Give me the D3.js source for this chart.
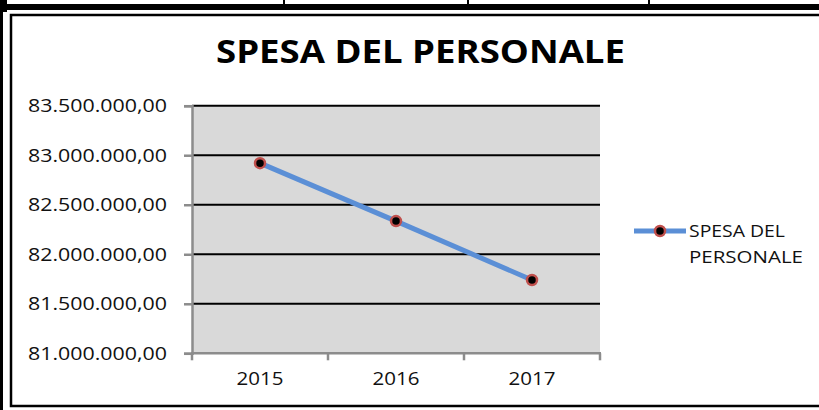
<!DOCTYPE html>
<html>
<head>
<meta charset="utf-8">
<script src="https://cdn.jsdelivr.net/npm/d3@7"></script>
<style>
  html, body { margin: 0; padding: 0; background: #fff; }
  svg { display: block; font-family: "Open Sans", "Noto Sans", sans-serif; }
</style>
</head>
<body>
<svg id="chart" width="819" height="410"></svg>
<script>
// data
const years = ['2015', '2016', '2017'];
const spesa = [82920000, 82335000, 81740000];
const yTicks = [81000000, 81500000, 82000000, 82500000, 83000000, 83500000];
const seriesName = 'SPESA DEL PERSONALE';

const svg = d3.select('#chart');

// spreadsheet fragments around the chart
svg.append('rect').attr('x', 0).attr('y', 4).attr('width', 819).attr('height', 6).attr('fill', '#000');
svg.append('rect').attr('x', 0).attr('y', 0).attr('width', 7).attr('height', 12).attr('fill', '#000');
svg.append('rect').attr('x', 0).attr('y', 0).attr('width', 3).attr('height', 410).attr('fill', '#000');
[283, 467, 648].forEach((x) => {
    svg.append('rect').attr('x', x).attr('y', 0).attr('width', 2).attr('height', 5).attr('fill', '#000');
});

// chart frame (runs off the right edge)
svg.append('path')
    .attr('d', 'M 830 15 H 11 V 406 H 830')
    .attr('fill', 'none')
    .attr('stroke', '#000')
    .attr('stroke-width', 2.5);

// title
svg.append('text')
    .attr('x', 420.5)
    .attr('y', 63)
    .attr('text-anchor', 'middle')
    .attr('textLength', 409)
    .attr('lengthAdjust', 'spacingAndGlyphs')
    .style('font-size', '32px')
    .style('font-weight', 'bold')
    .text(seriesName);

const plot = { left: 192, right: 600, top: 105.7, bottom: 353.3 };

const x = d3.scaleBand()
    .domain(years)
    .range([plot.left, plot.right])
    .padding(0);

const y = d3.scaleLinear()
    .domain([81000000, 83500000])
    .range([plot.bottom, plot.top]);

const it = d3.formatLocale({ decimal: ',', thousands: '.', grouping: [3], currency: ['€', ''] });
const fmt = it.format(',.2f');

// plot background
svg.append('rect')
    .attr('x', plot.left)
    .attr('y', plot.top)
    .attr('width', plot.right - plot.left)
    .attr('height', plot.bottom - plot.top)
    .attr('fill', '#d9d9d9');

// gridlines
svg.append('g')
    .selectAll('line')
    .data(yTicks.slice(1))
    .enter()
    .append('line')
    .attr('x1', plot.left)
    .attr('x2', plot.right)
    .attr('y1', (d) => y(d))
    .attr('y2', (d) => y(d))
    .attr('stroke', '#000')
    .attr('stroke-width', 2);

// Y axis
const yAxis = svg.append('g')
    .attr('transform', `translate(${plot.left},0)`)
    .call(d3.axisLeft(y).tickValues(yTicks).tickSize(8).tickPadding(17).tickFormat(fmt));
yAxis.select('.domain').attr('stroke', '#8c8c8c').attr('stroke-width', 2.5);
yAxis.selectAll('.tick line').attr('stroke', '#8c8c8c').attr('stroke-width', 2.5);
yAxis.selectAll('.tick text')
    .attr('fill', '#111')
    .attr('textLength', 139)
    .attr('lengthAdjust', 'spacingAndGlyphs')
    .style('font-family', '"Open Sans", sans-serif')
    .style('font-size', '19px');

// X axis
const xAxis = svg.append('g')
    .attr('transform', `translate(0,${plot.bottom})`)
    .call(d3.axisBottom(x).tickSize(0).tickPadding(18));
xAxis.select('.domain').remove();
xAxis.selectAll('.tick text')
    .attr('fill', '#111')
    .attr('textLength', 47)
    .attr('lengthAdjust', 'spacingAndGlyphs')
    .style('font-family', '"Open Sans", sans-serif')
    .style('font-size', '19px');
svg.append('line')
    .attr('x1', plot.left - 1)
    .attr('x2', plot.right + 1)
    .attr('y1', plot.bottom)
    .attr('y2', plot.bottom)
    .attr('stroke', '#8c8c8c')
    .attr('stroke-width', 2.5);
svg.append('g')
    .selectAll('line')
    .data(years.concat(['end']))
    .enter()
    .append('line')
    .attr('x1', (d) => (d === 'end' ? plot.right : x(d)))
    .attr('x2', (d) => (d === 'end' ? plot.right : x(d)))
    .attr('y1', plot.bottom)
    .attr('y2', plot.bottom + 7)
    .attr('stroke', '#8c8c8c')
    .attr('stroke-width', 2.5);

// series line
const cx = (d, i) => x(years[i]) + x.bandwidth() / 2;
const line = d3.line()
    .x((d, i) => cx(d, i))
    .y((d) => y(d));

svg.append('path')
    .datum(spesa)
    .attr('d', line)
    .attr('fill', 'none')
    .attr('stroke', '#5b8fd6')
    .attr('stroke-width', 5);

svg.append('g')
    .selectAll('circle')
    .data(spesa)
    .enter()
    .append('circle')
    .attr('cx', (d, i) => cx(d, i))
    .attr('cy', (d) => y(d))
    .attr('r', 5)
    .attr('fill', '#000')
    .attr('stroke', '#c0504d')
    .attr('stroke-width', 2.5);

// legend
const legend = svg.append('g').attr('transform', 'translate(634,231)');
legend.append('line')
    .attr('x1', 0).attr('x2', 52)
    .attr('y1', 0).attr('y2', 0)
    .attr('stroke', '#5b8fd6')
    .attr('stroke-width', 5);
legend.append('circle')
    .attr('cx', 26).attr('cy', 0).attr('r', 5)
    .attr('fill', '#000')
    .attr('stroke', '#c0504d')
    .attr('stroke-width', 2.5);
const lt = legend.append('text')
    .attr('fill', '#111')
    .style('font-size', '17px');
lt.append('tspan').attr('x', 55).attr('y', 6)
    .attr('textLength', 96).attr('lengthAdjust', 'spacingAndGlyphs')
    .text('SPESA DEL');
lt.append('tspan').attr('x', 55).attr('y', 32)
    .attr('textLength', 114).attr('lengthAdjust', 'spacingAndGlyphs')
    .text('PERSONALE');
</script>
</body>
</html>
